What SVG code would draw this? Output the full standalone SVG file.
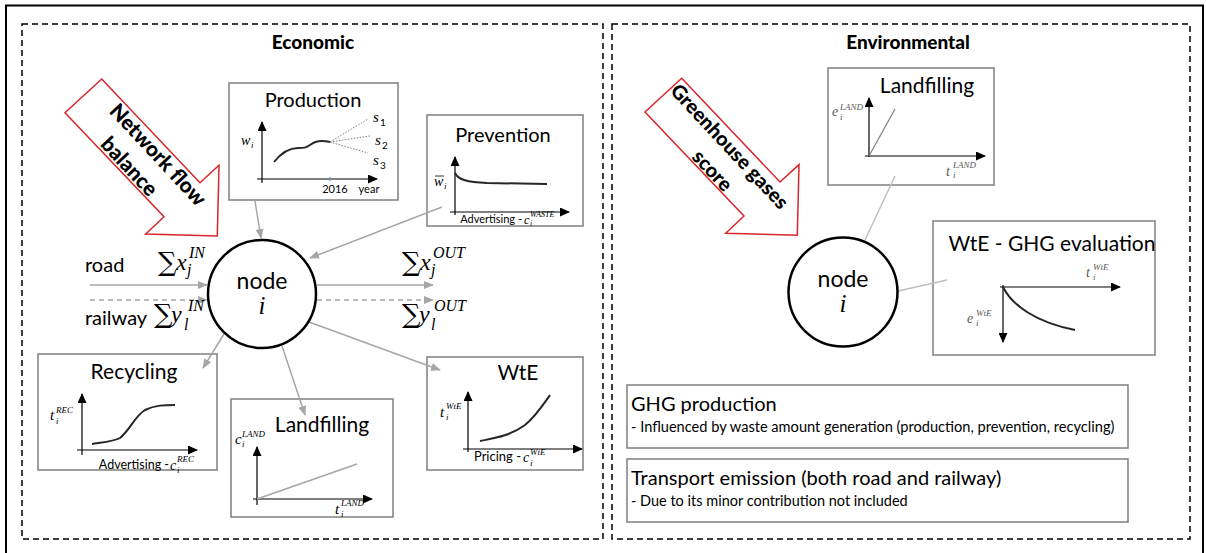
<svg xmlns="http://www.w3.org/2000/svg" width="1206" height="553" viewBox="0 0 1206 553">
<defs>
<marker id="ga" markerWidth="10" markerHeight="8" refX="9" refY="4" orient="auto" markerUnits="userSpaceOnUse"><path d="M0,0 L10,4 L0,8 z" fill="#a6a6a6"/></marker>
<marker id="ka" markerWidth="10" markerHeight="9" refX="9" refY="4.5" orient="auto" markerUnits="userSpaceOnUse"><path d="M0,0 L10,4.5 L0,9 z" fill="#000"/></marker>
<style>
.t{font-family:Lato,"Liberation Sans",sans-serif;fill:#000}
.b{font-family:Lato,"Liberation Sans",sans-serif;font-weight:900;fill:#000}
.m{font-family:"Liberation Serif","DejaVu Serif",serif;font-style:italic;fill:#000}
.sm{font-family:"DejaVu Serif","Liberation Serif",serif;fill:#000}
.gm{font-family:"Liberation Serif","DejaVu Serif",serif;font-style:italic;fill:#595959}
.box{fill:#fff;stroke:#7f7f7f;stroke-width:1.5}
.dash{fill:none;stroke:#000;stroke-width:1.5;stroke-dasharray:6 4}
.ax{stroke:#000;stroke-width:1.2;fill:none}
.cv{stroke:#262626;stroke-width:2;fill:none}
.con{stroke:#a6a6a6;stroke-width:1.5;fill:none}
.red{fill:#fff;stroke:#d9262c;stroke-width:1.5}
.node{fill:#fff;stroke:#000;stroke-width:2.5}
</style>
</defs>
<rect x="0" y="0" width="1206" height="553" fill="#fff"/>
<rect x="6" y="5.5" width="1197" height="552" fill="none" stroke="#000" stroke-width="2"/>

<g id="economic-panel">
<rect class="dash" x="22" y="24" width="581" height="515"/>
<text class="b" x="313" y="49" font-size="19" text-anchor="middle">Economic</text>
</g>
<g id="environmental-panel">
<rect class="dash" x="612" y="24" width="578" height="515"/>
<text class="b" x="908" y="49" font-size="19" text-anchor="middle">Environmental</text>
</g>

<g id="network-flow-arrow">
<polygon class="red" points="101.7,79 200,182.7 219,165.3 217.3,236 145.7,234 164,216.7 65,112.7"/>
<g transform="translate(143.5,161.5) rotate(47)">
<text class="b" x="5" y="-8" font-size="21" text-anchor="middle">Network flow</text>
<text class="b" x="-6" y="21" font-size="21" text-anchor="middle">balance</text>
</g>
</g>

<g id="ghg-arrow">
<polygon class="red" points="681.7,78.3 780,182 799,164.6 797.3,235.3 725.7,233.3 744,216 645,112"/>
<g transform="translate(720,158) rotate(47)">
<text class="b" x="-2" y="-8" font-size="20" text-anchor="middle">Greenhouse gases</text>
<text class="b" x="4" y="21" font-size="20" text-anchor="middle">score</text>
</g>
</g>

<g id="production">
<rect class="box" x="229" y="83" width="169" height="117"/>
<text class="t" x="313" y="107" font-size="20" text-anchor="middle">Production</text>
<path class="ax" d="M262,183 L262,122" marker-end="url(#ka)"/>
<path class="ax" d="M257,179 L377,179" marker-end="url(#ka)"/>
<path d="M330,177 L330,181" stroke="#5b9bd5" stroke-width="1.2"/>
<path class="cv" d="M274,162 C282,152 290,148 298,148 C304,148 306,148 310,145 C316,140 322,140 330,142"/>
<path d="M330,142 L368,119 M330,142 L370,136 M330,142 L368,153" stroke="#7f7f7f" stroke-width="1" stroke-dasharray="1.5 1.5" fill="none"/>
<text class="m" x="373" y="122" font-size="15">s</text><text class="t" x="380" y="126" font-size="10">1</text>
<text class="m" x="375" y="145" font-size="15">s</text><text class="t" x="382" y="149" font-size="10">2</text>
<text class="m" x="373" y="165" font-size="15">s</text><text class="t" x="380" y="169" font-size="10">3</text>
<text class="t" x="335" y="193" font-size="11" text-anchor="middle">2016</text>
<text class="t" x="369" y="193" font-size="11" text-anchor="middle">year</text>
<text class="m" x="241" y="145" font-size="14">w</text><text class="m" x="251" y="148" font-size="9">i</text>
</g>

<g id="prevention">
<rect class="box" x="427" y="115" width="156" height="111"/>
<text class="t" x="503" y="142" font-size="20" text-anchor="middle">Prevention</text>
<path class="ax" d="M455,215 L455,157" marker-end="url(#ka)"/>
<path class="ax" d="M450,212 L569,212" marker-end="url(#ka)"/>
<path class="cv" d="M455,173 C458,180 468,182 487,183 L547,184"/>
<text class="m" x="434" y="186" font-size="14">w</text><path d="M435,176 L444,176" stroke="#000" stroke-width="0.8"/><text class="m" x="444" y="189" font-size="9">i</text>
<text class="t" x="522" y="223" font-size="11" text-anchor="end">Advertising - </text>
<text class="m" x="524" y="224" font-size="12">c</text>
<text class="m" x="530" y="217" font-size="8">WASTE</text>
<text class="m" x="530" y="226" font-size="8">i</text>
</g>

<g id="recycling">
<rect class="box" x="38" y="354" width="179" height="116"/>
<text class="t" x="134" y="379" font-size="21" text-anchor="middle">Recycling</text>
<path class="ax" d="M82,455 L82,394" marker-end="url(#ka)"/>
<path class="ax" d="M77,450 L197,450" marker-end="url(#ka)"/>
<path class="cv" d="M92,444 C105,442 115,441 120,438 C130,430 135,416 145,410 C155,405 165,405 175,405"/>
<text class="m" x="50" y="420" font-size="15">t</text><text class="m" x="56" y="413" font-size="9">REC</text><text class="m" x="56" y="424" font-size="9">i</text>
<text class="t" x="169" y="469" font-size="12.5" text-anchor="end">Advertising - </text>
<text class="m" x="170" y="470" font-size="14">c</text>
<text class="m" x="177" y="462" font-size="9">REC</text>
<text class="m" x="177" y="473" font-size="9">i</text>
</g>

<g id="landfilling-econ">
<rect class="box" x="231" y="399" width="162" height="118"/>
<text class="t" x="322" y="432" font-size="21" text-anchor="middle">Landfilling</text>
<path class="ax" d="M257,505 L257,447" marker-end="url(#ka)"/>
<path class="ax" d="M253,499 L372,499" marker-end="url(#ka)"/>
<path d="M257,499 L357,464" stroke="#a6a6a6" stroke-width="1.5" fill="none"/>
<text class="m" x="235" y="444" font-size="15">c</text><text class="m" x="242" y="437" font-size="9">LAND</text><text class="m" x="242" y="447" font-size="9">i</text>
<text class="m" x="335" y="514" font-size="15">t</text><text class="m" x="341" y="506" font-size="9">LAND</text><text class="m" x="341" y="517" font-size="9">i</text>
</g>

<g id="wte-econ">
<rect class="box" x="427" y="357" width="156" height="113"/>
<text class="t" x="518" y="380" font-size="21" text-anchor="middle">WtE</text>
<path class="ax" d="M468,452 L468,392" marker-end="url(#ka)"/>
<path class="ax" d="M463,449 L582,449" marker-end="url(#ka)"/>
<path class="cv" d="M480,441 C495,438 510,436 525,425 C535,417 543,405 550,395"/>
<text class="m" x="440" y="417" font-size="15">t</text><text class="m" x="446" y="409" font-size="9">WtE</text><text class="m" x="446" y="420" font-size="9">i</text>
<text class="t" x="521" y="461" font-size="13" text-anchor="end">Pricing - </text>
<text class="m" x="523" y="462" font-size="14">c</text>
<text class="m" x="530" y="455" font-size="9">WtE</text>
<text class="m" x="530" y="466" font-size="9">i</text>
</g>

<g id="landfilling-env">
<rect class="box" x="828" y="68" width="166" height="117"/>
<text class="t" x="927" y="93" font-size="21" text-anchor="middle">Landfilling</text>
<path class="ax" d="M869,157 L869,98" marker-end="url(#ka)"/>
<path class="ax" d="M865,156 L985,156" marker-end="url(#ka)"/>
<path d="M869,156 L895,109" stroke="#7f7f7f" stroke-width="1.2" fill="none"/>
<text class="gm" x="832" y="116" font-size="14">e</text><text class="gm" x="840" y="110" font-size="9">LAND</text><text class="gm" x="840" y="120" font-size="9">i</text>
<text class="gm" x="946" y="176" font-size="14">t</text><text class="gm" x="953" y="168" font-size="9">LAND</text><text class="gm" x="953" y="178" font-size="9">i</text>
</g>

<g id="wte-ghg">
<rect class="box" x="933" y="221" width="222" height="134"/>
<text class="t" x="1052" y="251" font-size="21" text-anchor="middle">WtE - GHG evaluation</text>
<path class="ax" d="M1000,287 L1120,287" marker-end="url(#ka)"/>
<path class="ax" d="M1003,285 L1003,342" marker-end="url(#ka)"/>
<path class="cv" d="M1003,287 C1012,305 1035,322 1075,330"/>
<text class="gm" x="1086" y="277" font-size="14">t</text><text class="gm" x="1093" y="270" font-size="9">WtE</text><text class="gm" x="1093" y="280" font-size="9">i</text>
<text class="gm" x="967" y="323" font-size="14">e</text><text class="gm" x="976" y="316" font-size="9">WtE</text><text class="gm" x="976" y="326" font-size="9">i</text>
</g>

<g id="ghg-production">
<rect class="box" x="627" y="385" width="501" height="63"/>
<text class="t" x="631" y="411" font-size="20">GHG production</text>
<text class="t" x="631" y="432" font-size="14.6">- Influenced by waste amount generation (production, prevention, recycling)</text>
</g>
<g id="transport-emission">
<rect class="box" x="627" y="459" width="501" height="63"/>
<text class="t" x="631" y="485" font-size="20">Transport emission (both road and railway)</text>
<text class="t" x="631" y="506" font-size="14.5">- Due to its minor contribution not included</text>
</g>

<g id="connectors">
<path class="con" d="M90,285 L207,285" marker-end="url(#ga)"/>
<path class="con" d="M90,300 L207,300" stroke-dasharray="5 4" marker-end="url(#ga)"/>
<path class="con" d="M317,285 L433,285" marker-end="url(#ga)"/>
<path class="con" d="M317,300 L433,300" stroke-dasharray="5 4" marker-end="url(#ga)"/>
<path class="con" d="M255,201 L261,238" marker-end="url(#ga)"/>
<path class="con" d="M442,207 L310,258" marker-end="url(#ga)"/>
<path class="con" d="M224,334 L203,368" marker-end="url(#ga)"/>
<path class="con" d="M282,346 L305,415" marker-end="url(#ga)"/>
<path class="con" d="M309,322 L440,370" marker-end="url(#ga)"/>
<path d="M895,176 L865,240" stroke="#bfbfbf" stroke-width="1.5" fill="none"/>
<path d="M898,291 L947,280" stroke="#bfbfbf" stroke-width="1.5" fill="none"/>
</g>

<g id="node-econ">
<circle class="node" cx="262" cy="294" r="54"/>
<text class="t" x="262" y="289" font-size="23" text-anchor="middle">node</text>
<text class="m" x="262" y="314" font-size="25" text-anchor="middle">i</text>
</g>

<g id="node-env">
<circle class="node" cx="843" cy="292" r="54.5"/>
<text class="t" x="843" y="287" font-size="23" text-anchor="middle">node</text>
<text class="m" x="843" y="312" font-size="25" text-anchor="middle">i</text>
</g>

<g id="flow-labels">
<text class="t" x="85" y="272" font-size="20">road</text>
<text class="t" x="85" y="325" font-size="20">railway</text>
<text class="sm" x="158" y="271" font-size="26">∑</text><text class="m" x="176" y="270" font-size="24">x</text><text class="m" x="189" y="258" font-size="16">IN</text><text class="m" x="187" y="275" font-size="16">j</text>
<text class="sm" x="154" y="323" font-size="26">∑</text><text class="m" x="171" y="322" font-size="24">y</text><text class="m" x="188" y="311" font-size="16">IN</text><text class="m" x="184" y="330" font-size="16">l</text>
<text class="sm" x="402" y="271" font-size="26">∑</text><text class="m" x="420" y="270" font-size="24">x</text><text class="m" x="433" y="258" font-size="16">OUT</text><text class="m" x="431" y="275" font-size="16">j</text>
<text class="sm" x="402" y="323" font-size="26">∑</text><text class="m" x="419" y="322" font-size="24">y</text><text class="m" x="434" y="311" font-size="16">OUT</text><text class="m" x="431" y="330" font-size="16">l</text>
</g>
</svg>
